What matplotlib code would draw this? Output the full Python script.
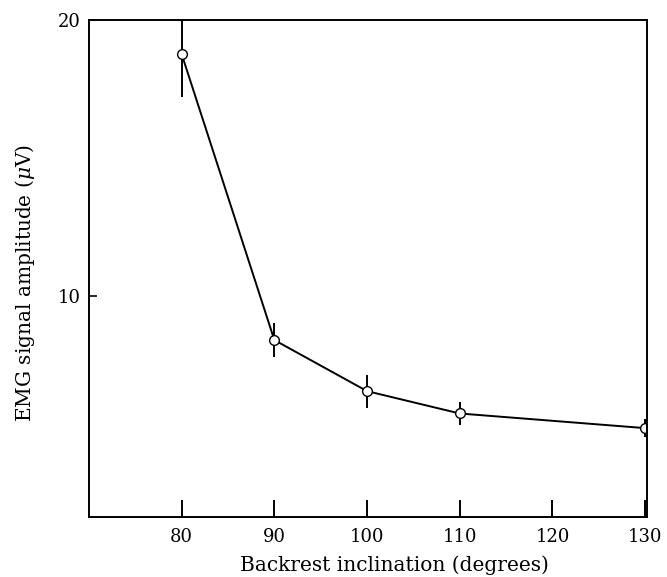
import matplotlib
matplotlib.use('Agg')
import matplotlib.pyplot as plt

# backrest angle vs EMG amplitude
angle = [80, 90, 100, 110, 130]
emg = [18.77, 8.41, 6.56, 5.75, 5.22]
emg_err = [1.57, 0.63, 0.6, 0.4, 0.32]
xtick_vals = [80, 90, 100, 110, 120, 130]
ytick_vals = [10, 20]

plt.rcParams['font.family'] = 'DejaVu Serif'
plt.rcParams['mathtext.fontset'] = 'dejavuserif'

fig = plt.figure(figsize=(6.67, 5.77), dpi=100)
ax = fig.add_axes([0.1334, 0.104, 0.970 - 0.1334, 0.965 - 0.104])

ax.errorbar(angle, emg, yerr=emg_err, color='black', lw=1.4, elinewidth=1.4,
            capsize=0, marker='o', markersize=7, markerfacecolor='white',
            markeredgecolor='black', markeredgewidth=1.0)

ax.set_xlim(70, 130.2)
ax.set_ylim(2, 20)
ax.set_xticks(xtick_vals)
ax.set_yticks(ytick_vals)
ax.tick_params(axis='x', direction='in', length=12, width=1.4, labelsize=13, pad=8)
ax.tick_params(axis='y', direction='in', length=6, width=1.2, labelsize=13, pad=6)
for s in ax.spines.values():
    s.set_linewidth(1.4)

ax.set_xlabel('Backrest inclination (degrees)', fontsize=14.5, va='center')
ax.xaxis.set_label_coords(0.548, -0.097)
ax.set_ylabel(r'EMG signal amplitude ($\mu$V)', fontsize=14.5, va='center')
ax.yaxis.set_label_coords(-0.115, 0.471)

fig.savefig('out.png', dpi=100)
